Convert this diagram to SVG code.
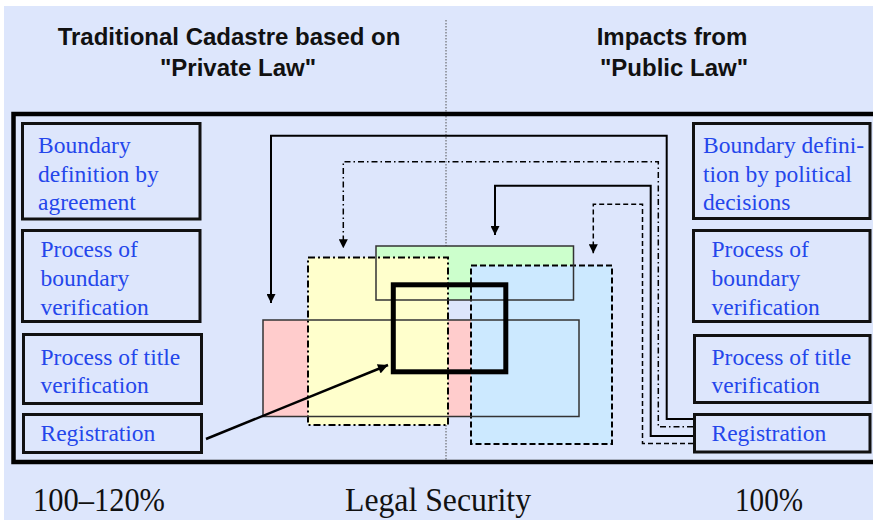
<svg xmlns="http://www.w3.org/2000/svg" width="873" height="520" viewBox="0 0 873 520">
<style>
.bg{fill:#dde6fc}
.box{fill:#dde6fc;stroke:#111;stroke-width:3}
.lbl{font-family:"Liberation Serif","Times New Roman",serif;font-size:23.5px;fill:#2446eb}
.hdr{font-family:"Liberation Sans",Arial,sans-serif;font-size:24px;font-weight:bold;fill:#111;text-anchor:middle}
.bot{font-family:"Liberation Serif","Times New Roman",serif;font-size:34px;fill:#111}
.con{fill:none;stroke:#000}
</style>
<defs>
<marker id="ah" viewBox="0 0 10 10" refX="10" refY="5" markerUnits="userSpaceOnUse" markerWidth="9" markerHeight="9" orient="auto">
<path d="M0,0 L10,5 L0,10 z" fill="#000"/>
</marker>
<marker id="ah2" viewBox="0 0 10 10" refX="10" refY="5" markerUnits="userSpaceOnUse" markerWidth="12" markerHeight="10" orient="auto">
<path d="M0,0 L10,5 L0,10 z" fill="#000"/>
</marker>
</defs>
<rect x="0" y="0" width="873" height="520" fill="#fff"/>
<rect class="bg" x="4" y="6" width="869" height="514"/>
<line x1="446" y1="20" x2="446" y2="460" stroke="#555" stroke-width="1" stroke-dasharray="1.5,1.5"/>
<g id="headers">
<text class="hdr" x="229" y="45">Traditional Cadastre based on</text>
<text class="hdr" x="238" y="76">"Private Law"</text>
<text class="hdr" x="672" y="45">Impacts from</text>
<text class="hdr" x="674" y="76">"Public Law"</text>
</g>
<rect id="frame" x="13.5" y="114" width="866" height="348" fill="none" stroke="#000" stroke-width="4.5"/>
<g id="left1"><rect class="box" x="22.5" y="123.5" width="177.5" height="95.5"/>
<text class="lbl" x="38" y="153">Boundary</text><text class="lbl" x="38" y="182">definition by</text><text class="lbl" x="38" y="210">agreement</text></g>
<g id="left2"><rect class="box" x="22.5" y="230.5" width="177.5" height="91"/>
<text class="lbl" x="40.5" y="257">Process of</text><text class="lbl" x="40.5" y="286">boundary</text><text class="lbl" x="40.5" y="315">verification</text></g>
<g id="left3"><rect class="box" x="23.5" y="334.5" width="178" height="69"/>
<text class="lbl" x="40.5" y="365">Process of title</text><text class="lbl" x="40.5" y="393">verification</text></g>
<g id="left4"><rect class="box" x="23.5" y="414.5" width="178" height="38"/>
<text class="lbl" x="40.5" y="441">Registration</text></g>
<g id="right1"><rect class="box" x="693.5" y="123.5" width="176.5" height="95"/>
<text class="lbl" x="703" y="153">Boundary defini-</text><text class="lbl" x="703" y="182">tion by political</text><text class="lbl" x="703" y="210">decisions</text></g>
<g id="right2"><rect class="box" x="693.5" y="230.5" width="176.5" height="91"/>
<text class="lbl" x="711.5" y="257">Process of</text><text class="lbl" x="711.5" y="286">boundary</text><text class="lbl" x="711.5" y="315">verification</text></g>
<g id="right3"><rect class="box" x="694.5" y="335.5" width="175.5" height="67"/>
<text class="lbl" x="711.5" y="365">Process of title</text><text class="lbl" x="711.5" y="393">verification</text></g>
<g id="right4"><rect class="box" x="694.5" y="414.5" width="175.5" height="37.5"/>
<text class="lbl" x="711.5" y="441">Registration</text></g>
<g id="overlap">
<rect x="263" y="320" width="316" height="96.5" fill="#ffcccc"/>
<rect x="376" y="246" width="197.5" height="54" fill="#ccffcc"/>
<rect x="308" y="257.5" width="140" height="167.5" fill="#ffffcc" stroke="#000" stroke-width="2" stroke-dasharray="7,3,2,3"/>
<rect x="471" y="265.5" width="141" height="178.5" fill="#cce9ff" stroke="#000" stroke-width="2" stroke-dasharray="6,3"/>
<rect x="263" y="320" width="316" height="96.5" fill="none" stroke="#333" stroke-width="1.5"/>
<rect x="376" y="246" width="197.5" height="54" fill="none" stroke="#333" stroke-width="1.5"/>
</g>
<g id="connectors">
<path class="con" stroke-width="2" d="M693,419 H666.7 V135.7 H271 V303" marker-end="url(#ah)"/>
<path class="con" stroke-width="1.5" stroke-dasharray="6,3,1.5,3" d="M693,426.7 H658.3 V161.7 H343.3 V248.3" marker-end="url(#ah)"/>
<path class="con" stroke-width="2" d="M693,436 H650.7 V185.7 H495 V235" marker-end="url(#ah)"/>
<path class="con" stroke-width="1.5" stroke-dasharray="5,3" d="M693,443.5 H642.5 V204.3 H593.3 V253.3" marker-end="url(#ah)"/>
<path class="con" stroke-width="2.5" d="M206,439 L388,365" marker-end="url(#ah2)"/>
</g>
<rect id="core" x="393.3" y="284.8" width="112.5" height="87" fill="none" stroke="#000" stroke-width="5"/>
<g id="bottom">
<text class="bot" x="33" y="511" textLength="132" lengthAdjust="spacingAndGlyphs">100–120%</text>
<text class="bot" x="345" y="511" textLength="186" lengthAdjust="spacingAndGlyphs">Legal Security</text>
<text class="bot" x="735" y="511" textLength="68" lengthAdjust="spacingAndGlyphs">100%</text>
</g>
</svg>
